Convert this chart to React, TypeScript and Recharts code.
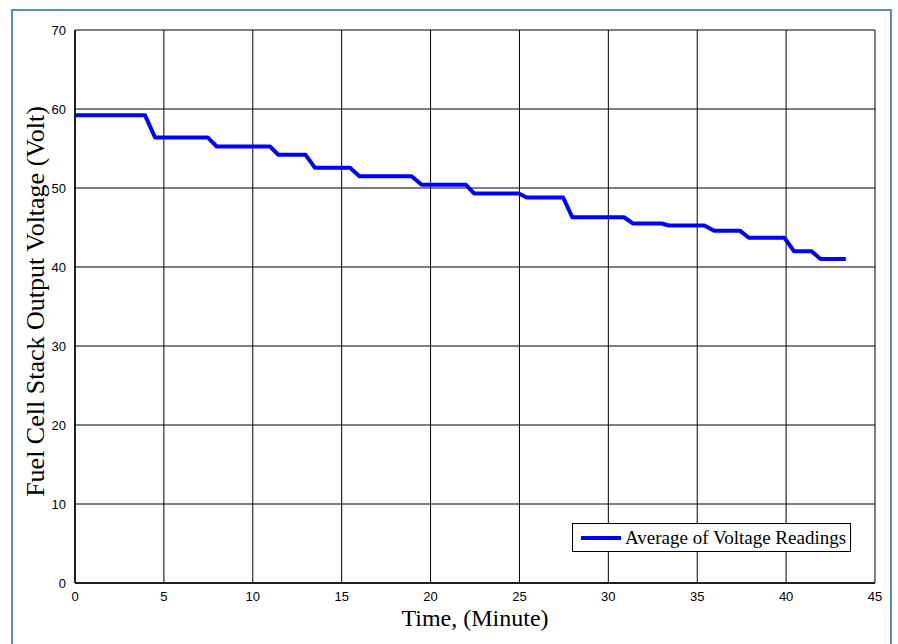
import { LineChart, Line, XAxis, YAxis, CartesianGrid } from 'recharts';

// step readings: time in minutes, average stack voltage
const times = [
  0, 3.94, 4.5, 7.46, 7.97, 10.97, 11.44, 12.97, 13.5, 15.47, 16.0, 18.93, 19.5, 21.99, 22.46, 24.97,
  25.4, 27.46, 27.97, 30.88, 31.4, 33.0, 33.4, 35.4, 35.95, 37.4, 37.9, 39.9, 40.44, 41.43, 41.94, 43.36,
];
const volts = [
  59.2, 59.2, 56.4, 56.4, 55.25, 55.25, 54.2, 54.2, 52.55, 52.55, 51.5, 51.5, 50.4, 50.4, 49.3, 49.3,
  48.8, 48.8, 46.3, 46.3, 45.5, 45.5, 45.25, 45.25, 44.6, 44.6, 43.7, 43.7, 42.0, 42.0, 41.0, 41.0,
];
const xTicks = [0, 5, 10, 15, 20, 25, 30, 35, 40, 45];
const yTicks = [0, 10, 20, 30, 40, 50, 60, 70];

const data = times.map((t, i) => ({ t, v: volts[i] }));

const serif = '"Liberation Serif", "Times New Roman", serif';
const sans = '"Liberation Sans", Arial, sans-serif';

function LegendBox() {
  return (
    <div
      style={{
        position: 'absolute',
        left: 572,
        top: 523,
        width: 279,
        height: 29,
        boxSizing: 'border-box',
        border: '1px solid #000',
        background: '#fff',
        display: 'flex',
        alignItems: 'center',
        fontFamily: serif,
        fontSize: 19,
        color: '#000',
        whiteSpace: 'nowrap',
      }}
    >
      <div style={{ width: 40, height: 4, background: '#0000ff', marginLeft: 8, marginRight: 4 }} />
      <span>Average of Voltage Readings</span>
    </div>
  );
}

export default function App() {
  return (
    <div style={{ position: 'absolute', left: 0, top: 0, width: 898, height: 644, background: '#fff', overflow: 'hidden' }}>
      <div
        style={{
          position: 'absolute',
          left: 11,
          top: 9,
          width: 881,
          height: 660,
          border: '2.5px solid #5b8bc9',
          boxSizing: 'border-box',
        }}
      />
      <LineChart
        width={898}
        height={644}
        data={data}
        margin={{ top: 30, right: 23, left: 35, bottom: 31 }}
        style={{ position: 'absolute', left: 0, top: 0 }}
      >
        <CartesianGrid stroke="#000" strokeWidth={1} />
        <XAxis
          dataKey="t"
          type="number"
          domain={[0, 45]}
          ticks={xTicks}
          interval={0}
          height={30}
          stroke="#000"
          strokeWidth={1.5}
          tickLine={false}
          tick={{ fill: '#000', fontSize: 13, fontFamily: sans }}
          tickMargin={3}
          label={{ value: 'Time, (Minute)', position: 'insideBottom', offset: -13, fill: '#000', fontSize: 24, fontFamily: serif }}
        />
        <YAxis
          type="number"
          domain={[0, 70]}
          ticks={yTicks}
          interval={0}
          width={40}
          stroke="#000"
          strokeWidth={1.5}
          tickLine={false}
          tick={{ fill: '#000', fontSize: 13, fontFamily: sans }}
          tickMargin={3}
          label={{
            value: 'Fuel Cell Stack Output Voltage (Volt)',
            angle: -90,
            position: 'center',
            dx: -20,
            dy: -5,
            fill: '#000',
            fontSize: 26,
            fontFamily: serif,
          }}
        />
        <XAxis xAxisId="top" orientation="top" type="number" domain={[0, 45]} ticks={xTicks} tick={false} tickLine={false} height={0} stroke="#000" strokeWidth={1.5} />
        <YAxis yAxisId="right" orientation="right" type="number" domain={[0, 70]} ticks={yTicks} tick={false} tickLine={false} width={0} stroke="#000" strokeWidth={1.5} />
        <Line
          type="linear"
          dataKey="v"
          stroke="#0000ff"
          strokeWidth={4}
          dot={false}
          isAnimationActive={false}
          strokeLinejoin="round"
        />
      </LineChart>
      <LegendBox />
    </div>
  );
}
